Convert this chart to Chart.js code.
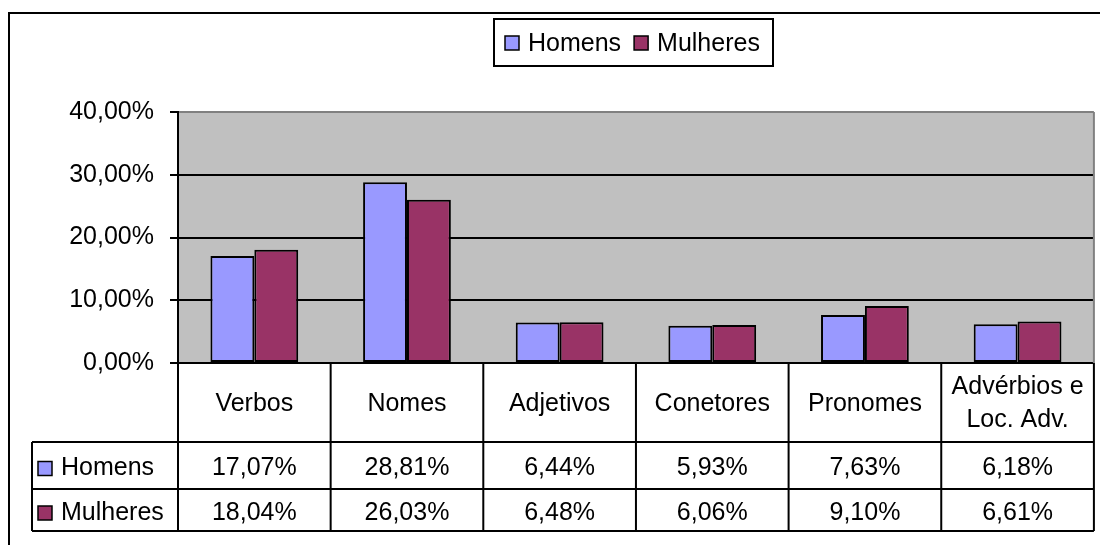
<!DOCTYPE html>
<html>
<head>
<meta charset="utf-8">
<script src="https://cdn.jsdelivr.net/npm/chart.js@4/dist/chart.umd.min.js"></script>
<style>
  html, body { margin: 0; padding: 0; background: #fff; }
  #chart { display: block; }
</style>
</head>
<body>
<canvas id="chart" width="1100" height="545"></canvas>
<script>
/* Homens vs Mulheres bar chart with data table */

const categories = ["Verbos", "Nomes", "Adjetivos", "Conetores", "Pronomes", ["Advérbios e", "Loc. Adv."]];
const homens = [17.07, 28.81, 6.44, 5.93, 7.63, 6.18];
const mulheres = [18.04, 26.03, 6.48, 6.06, 9.10, 6.61];
const seriesNames = ["Homens", "Mulheres"];
const seriesColors = ["#9999FF", "#993366"];
const yTicks = [0, 10, 20, 30, 40];

const FONT = "'Liberation Sans', Arial, sans-serif";
const FONT_SIZE = 25;

function fmtPct(v) {
  return v.toFixed(2).replace(".", ",") + "%";
}

const frame = {
  id: "frame",
  beforeDraw(chart) {
    const { ctx, chartArea: a } = chart;
    ctx.save();
    ctx.fillStyle = "#fff";
    ctx.fillRect(0, 0, chart.width, chart.height);
    ctx.fillStyle = "#C0C0C0";
    ctx.fillRect(a.left, a.top, a.right - a.left, a.bottom - a.top);
    ctx.strokeStyle = "#000";
    ctx.lineWidth = 2;
    ctx.strokeRect(9, 13, chart.width + 20, chart.height + 20);
    ctx.restore();
  },
  afterDatasetsDraw(chart) {
    const { ctx, chartArea: a } = chart;
    ctx.save();
    ctx.strokeStyle = "#808080";
    ctx.lineWidth = 2;
    ctx.beginPath();
    ctx.moveTo(a.right, a.top);
    ctx.lineTo(a.right, a.bottom);
    ctx.stroke();
    ctx.restore();
  },
};

const legendBox = {
  id: "legendBox",
  afterDraw(chart) {
    const { ctx } = chart;
    ctx.save();
    ctx.font = `${FONT_SIZE}px ${FONT}`;
    ctx.textBaseline = "middle";
    ctx.textAlign = "left";
    let x = 505;
    const cy = 43;
    chart.data.datasets.forEach((ds) => {
      ctx.fillStyle = ds.backgroundColor;
      ctx.fillRect(x, cy - 7, 14, 14);
      ctx.strokeStyle = "#000";
      ctx.lineWidth = 1.5;
      ctx.strokeRect(x, cy - 7, 14, 14);
      ctx.fillStyle = "#000";
      ctx.fillText(ds.label, x + 23, cy + 1);
      x += 23 + ctx.measureText(ds.label).width + 13;
    });
    ctx.strokeStyle = "#000";
    ctx.lineWidth = 2;
    ctx.strokeRect(494, 19, 279, 47);
    ctx.restore();
  },
};

const dataTable = {
  id: "dataTable",
  afterDraw(chart) {
    const { ctx, chartArea: a } = chart;
    const xs = chart.scales.x;
    const step = xs.getPixelForValue(1) - xs.getPixelForValue(0);
    const rows = [a.bottom, a.bottom + 79, a.bottom + 126, a.bottom + 168];
    const legendLeft = 32;

    ctx.save();
    ctx.strokeStyle = "#000";
    ctx.lineWidth = 2;
    ctx.beginPath();
    for (let i = 0; i <= categories.length; i++) {
      const bx = i === 0 ? a.left : i === categories.length ? a.right : xs.getPixelForValue(i) - step / 2;
      ctx.moveTo(bx, rows[0]);
      ctx.lineTo(bx, rows[3]);
    }
    ctx.moveTo(legendLeft, rows[1]);
    ctx.lineTo(legendLeft, rows[3]);
    for (let r = 1; r <= 3; r++) {
      ctx.moveTo(legendLeft, rows[r]);
      ctx.lineTo(a.right, rows[r]);
    }
    ctx.stroke();

    ctx.font = `${FONT_SIZE}px ${FONT}`;
    ctx.textBaseline = "middle";
    chart.data.datasets.forEach((ds, i) => {
      const cy = (rows[i + 1] + rows[i + 2]) / 2 + 3;
      ctx.fillStyle = ds.backgroundColor;
      ctx.fillRect(38, cy - 7, 14, 14);
      ctx.lineWidth = 1.5;
      ctx.strokeRect(38, cy - 7, 14, 14);
      ctx.fillStyle = "#000";
      ctx.textAlign = "left";
      ctx.fillText(ds.label, 61, cy);
      ctx.textAlign = "center";
      ds.data.forEach((v, j) => {
        ctx.fillText(fmtPct(v), xs.getPixelForValue(j), cy);
      });
    });
    ctx.restore();
  },
};

Chart.defaults.font.family = FONT;
Chart.defaults.font.size = FONT_SIZE;
Chart.defaults.color = "#000";

new Chart(document.getElementById("chart"), {
  type: "bar",
  data: {
    labels: categories,
    datasets: [
      { label: seriesNames[0], data: homens, backgroundColor: seriesColors[0] },
      { label: seriesNames[1], data: mulheres, backgroundColor: seriesColors[1] },
    ],
  },
  options: {
    responsive: false,
    animation: false,
    layout: { padding: { top: 112, right: 5, bottom: 14, left: 0 } },
    datasets: {
      bar: {
        categoryPercentage: 0.575,
        barPercentage: 1.0,
        borderColor: "#000",
        borderWidth: 2,
        borderSkipped: false,
      },
    },
    scales: {
      x: {
        afterFit: (s) => { s.height = 168; },
        grid: { display: false },
        border: { display: true, color: "#000", width: 2 },
        ticks: {
          padding: 16,
          crossAlign: "center",
          maxRotation: 0,
          autoSkip: false,
          font: { size: FONT_SIZE, lineHeight: 1.33 },
        },
      },
      y: {
        min: 0,
        max: 40,
        afterFit: (s) => { s.width = 178; },
        afterBuildTicks: (s) => { s.ticks = yTicks.map((v) => ({ value: v })); },
        grid: {
          color: (c) => (c.tick && c.tick.value === 40 ? "#808080" : "#000"),
          tickColor: "#000",
          lineWidth: 2,
          tickLength: 8,
        },
        border: { display: true, color: "#000", width: 2 },
        ticks: {
          padding: 16,
          callback: (v) => fmtPct(v),
        },
      },
    },
    plugins: {
      legend: { display: false },
      tooltip: { enabled: false },
    },
  },
  plugins: [frame, legendBox, dataTable],
});
</script>
</body>
</html>
